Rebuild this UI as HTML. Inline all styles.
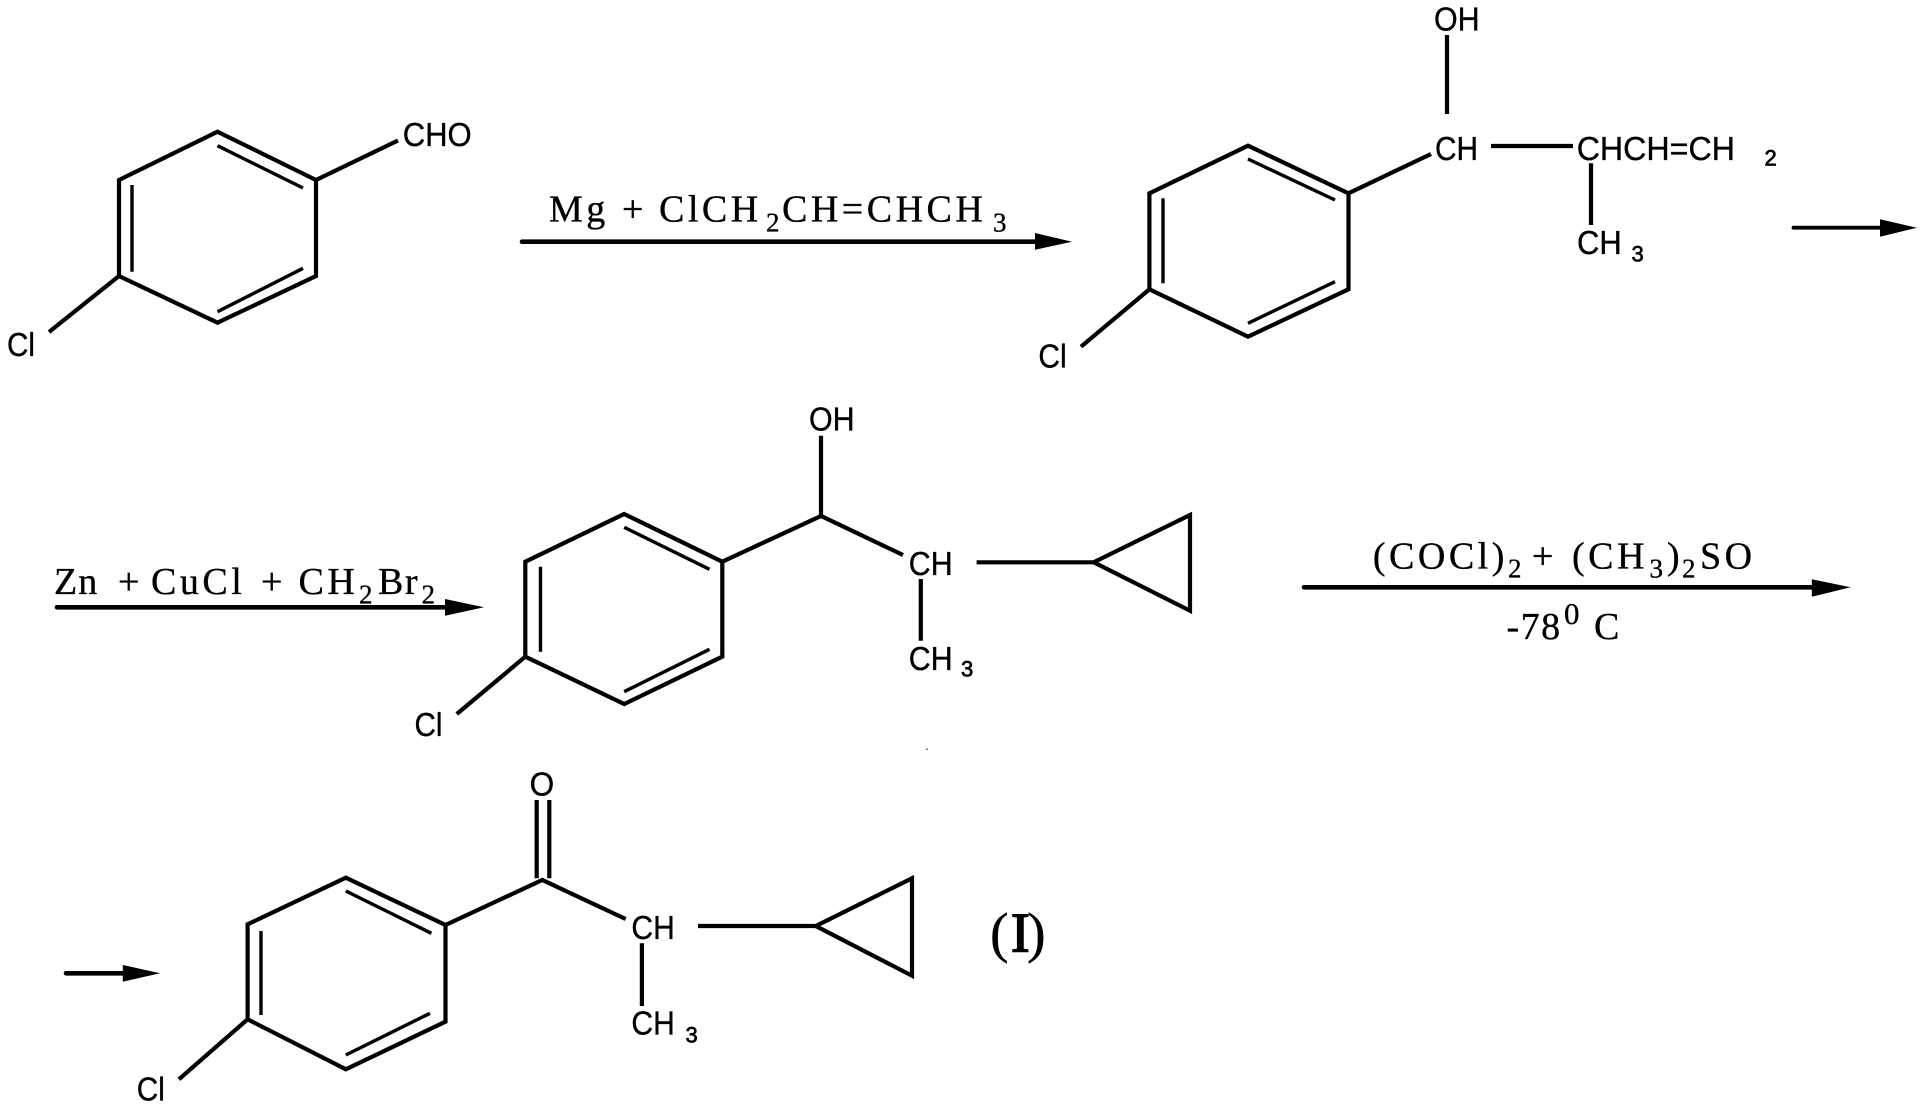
<!DOCTYPE html>
<html lang="en">
<head>
<meta charset="utf-8">
<title>Reaction scheme</title>
<style>
html,body{margin:0;padding:0;background:#fff;width:1926px;height:1110px;overflow:hidden}
svg{display:block}
.b{stroke:#000;stroke-width:4.2;fill:none;stroke-linejoin:miter;stroke-linecap:butt}
.i{stroke:#000;stroke-width:3.4;fill:none}
.a{stroke:#000;stroke-width:4.6;fill:none;stroke-linecap:round}
text{fill:#000;stroke:#000;stroke-width:.35}
.s{font-family:"Liberation Sans",sans-serif;font-size:33px}
.n{font-family:"Liberation Sans",sans-serif;font-size:22px;stroke-width:.7}
.r{font-family:"Liberation Serif",serif;font-size:38px;letter-spacing:3.5px}
.u{font-family:"Liberation Serif",serif;font-size:27px}
</style>
</head>
<body>
<svg width="1926" height="1110" viewBox="0 0 1926 1110" xmlns="http://www.w3.org/2000/svg">
<rect width="1926" height="1110" fill="#fff" stroke="none"/>

<!-- Molecule 1 -->
<polygon class="b" points="217.5,131.7 316,180 316,276 217.5,322.7 119,276 119,180"/>
<path class="i" d="M217.5,145.7L303,188M132,185V271.7M217.5,311.7L303,268.3"/>
<path class="b" d="M316,180L398,140.5M119,276L49,332"/>
<text class="s" x="402.7" y="146" textLength="69" lengthAdjust="spacingAndGlyphs">CHO</text>
<text class="s" x="7" y="356" textLength="28" lengthAdjust="spacingAndGlyphs">Cl</text>

<!-- Arrow 1 -->
<path class="a" d="M522,241.7H1040"/>
<polygon points="1035,233 1072,241.7 1035,249.7"/>
<text class="r" x="549" y="221.7">Mg</text>
<text class="r" x="622" y="221.7">+</text>
<text class="r" x="659" y="221.7">ClCH</text>
<text class="u" x="766" y="231.7">2</text>
<text class="r" x="782" y="221.7">CH=CHCH</text>
<text class="u" x="993" y="231.7">3</text>

<!-- Molecule 2 -->
<polygon class="b" points="1248,145.7 1348.5,193.3 1348.5,289.3 1248,336.7 1149.4,289.3 1149.4,193.3"/>
<path class="i" d="M1248,159L1335,200M1163,198.3V283.3M1248,323.3L1335,281.7"/>
<path class="b" d="M1348.5,193.3L1431,154M1447,35V114M1491,146H1573M1591,163.3V225M1149.4,289.3L1081,346.7"/>
<text class="s" x="1434" y="30.7" textLength="45.6" lengthAdjust="spacingAndGlyphs">OH</text>
<text class="s" x="1435" y="160" textLength="43" lengthAdjust="spacingAndGlyphs">CH</text>
<text class="s" x="1576.7" y="160" textLength="158.3" lengthAdjust="spacingAndGlyphs">CHCH=CH</text>
<text class="n" x="1764.5" y="165.7">2</text>
<text class="s" x="1577" y="254" textLength="44.7" lengthAdjust="spacingAndGlyphs">CH</text>
<text class="n" x="1631.5" y="261.7">3</text>
<text class="s" x="1038.4" y="367.7" textLength="28.3" lengthAdjust="spacingAndGlyphs">Cl</text>

<!-- Right-hand arrow -->
<path class="a" d="M1793.5,227.7H1884" style="stroke-width:3.8"/>
<polygon points="1880,219.3 1917,227.7 1880,236.7"/>

<!-- Arrow 2 -->
<path class="a" d="M57,607.3H450"/>
<polygon points="445,599 484,607.3 445,615.7"/>
<text class="r" x="54" y="594" style="letter-spacing:1px">Zn</text>
<text class="r" x="118" y="594">+</text>
<text class="r" x="151" y="594">CuCl</text>
<text class="r" x="261" y="594">+</text>
<text class="r" x="298.5" y="594">CH</text>
<text class="u" x="359" y="603.5">2</text>
<text class="r" x="378" y="594" style="letter-spacing:1.5px">Br</text>
<text class="u" x="421.5" y="603.5">2</text>

<!-- Molecule 3 -->
<polygon class="b" points="624.2,514 722.3,561.7 722.3,656.7 624.2,704 525.3,656.7 525.3,561.7"/>
<path class="i" d="M624.2,527.3L709.5,569.3M540.5,566.7V651.7M624.2,691.7L709.5,649.3"/>
<path class="b" d="M722.3,561.7L821,516L903,555M821,516V435.7M920.8,579V640.7M976.6,562.3H1093.7M525.3,656.7L456.8,714"/>
<polygon class="b" points="1093.7,562.3 1190,515 1190,610.7"/>
<text class="s" x="809" y="430.7" textLength="45.6" lengthAdjust="spacingAndGlyphs">OH</text>
<text class="s" x="908.8" y="575" textLength="43.8" lengthAdjust="spacingAndGlyphs">CH</text>
<text class="s" x="908.8" y="670" textLength="43.8" lengthAdjust="spacingAndGlyphs">CH</text>
<text class="n" x="961" y="676.7">3</text>
<text class="s" x="414.5" y="736" textLength="28" lengthAdjust="spacingAndGlyphs">Cl</text>
<rect x="926" y="748.5" width="2" height="1.5" fill="#777" stroke="none"/>

<!-- Arrow 3 -->
<path class="a" d="M1304,587.3H1816"/>
<polygon points="1811.8,579.3 1850.6,587.3 1811.8,596.7"/>
<text class="r" x="1372.9" y="568.3">(COCl)</text>
<text class="u" x="1508" y="577.5">2</text>
<text class="r" x="1532" y="568.3">+</text>
<text class="r" x="1572" y="568.3">(CH</text>
<text class="u" x="1649.5" y="577.5">3</text>
<text class="r" x="1667" y="568.3">)</text>
<text class="u" x="1682" y="577.5">2</text>
<text class="r" x="1700" y="568.3">SO</text>
<text class="r" x="1506.5" y="639" style="letter-spacing:1.5px">-78</text>
<text class="u" x="1564" y="624" style="font-size:31px">0</text>
<text class="r" x="1594" y="639">C</text>

<!-- Arrow 4 -->
<path class="a" d="M66,973.3H127"/>
<polygon points="122.8,965 160,973.3 122.8,981.7"/>

<!-- Molecule 4 -->
<polygon class="b" points="345.8,877.7 445.5,925 445.5,1021.7 345.8,1069.3 247.6,1019.3 247.6,924.3"/>
<path class="i" d="M345.8,891L431.4,933.3M261,931V1015M345.8,1055L430,1013.3"/>
<path class="b" d="M445.5,925L542.3,880L625.7,919M536.7,800V878.3M549.3,800V878.3M641.9,943.3V1006M698,926H815.8M247.6,1019.3L178.9,1079.3"/>
<polygon class="b" points="815.8,926 912,878.3 912,975.7"/>
<text class="s" x="529.6" y="795.7" textLength="24.6" lengthAdjust="spacingAndGlyphs">O</text>
<text class="s" x="631.4" y="939" textLength="43.4" lengthAdjust="spacingAndGlyphs">CH</text>
<text class="s" x="631.4" y="1034.3" textLength="43.4" lengthAdjust="spacingAndGlyphs">CH</text>
<text class="n" x="685.5" y="1042.3">3</text>
<text class="s" x="136.8" y="1100.7" textLength="28.1" lengthAdjust="spacingAndGlyphs">Cl</text>
<g style="font-family:'Liberation Serif',serif;font-size:56px">
<text x="990" y="951.7">(</text>
<text x="1011" y="951.7" style="stroke-width:1.6">I</text>
<text x="1027" y="951.7">)</text>
</g>
</svg>
</body>
</html>
